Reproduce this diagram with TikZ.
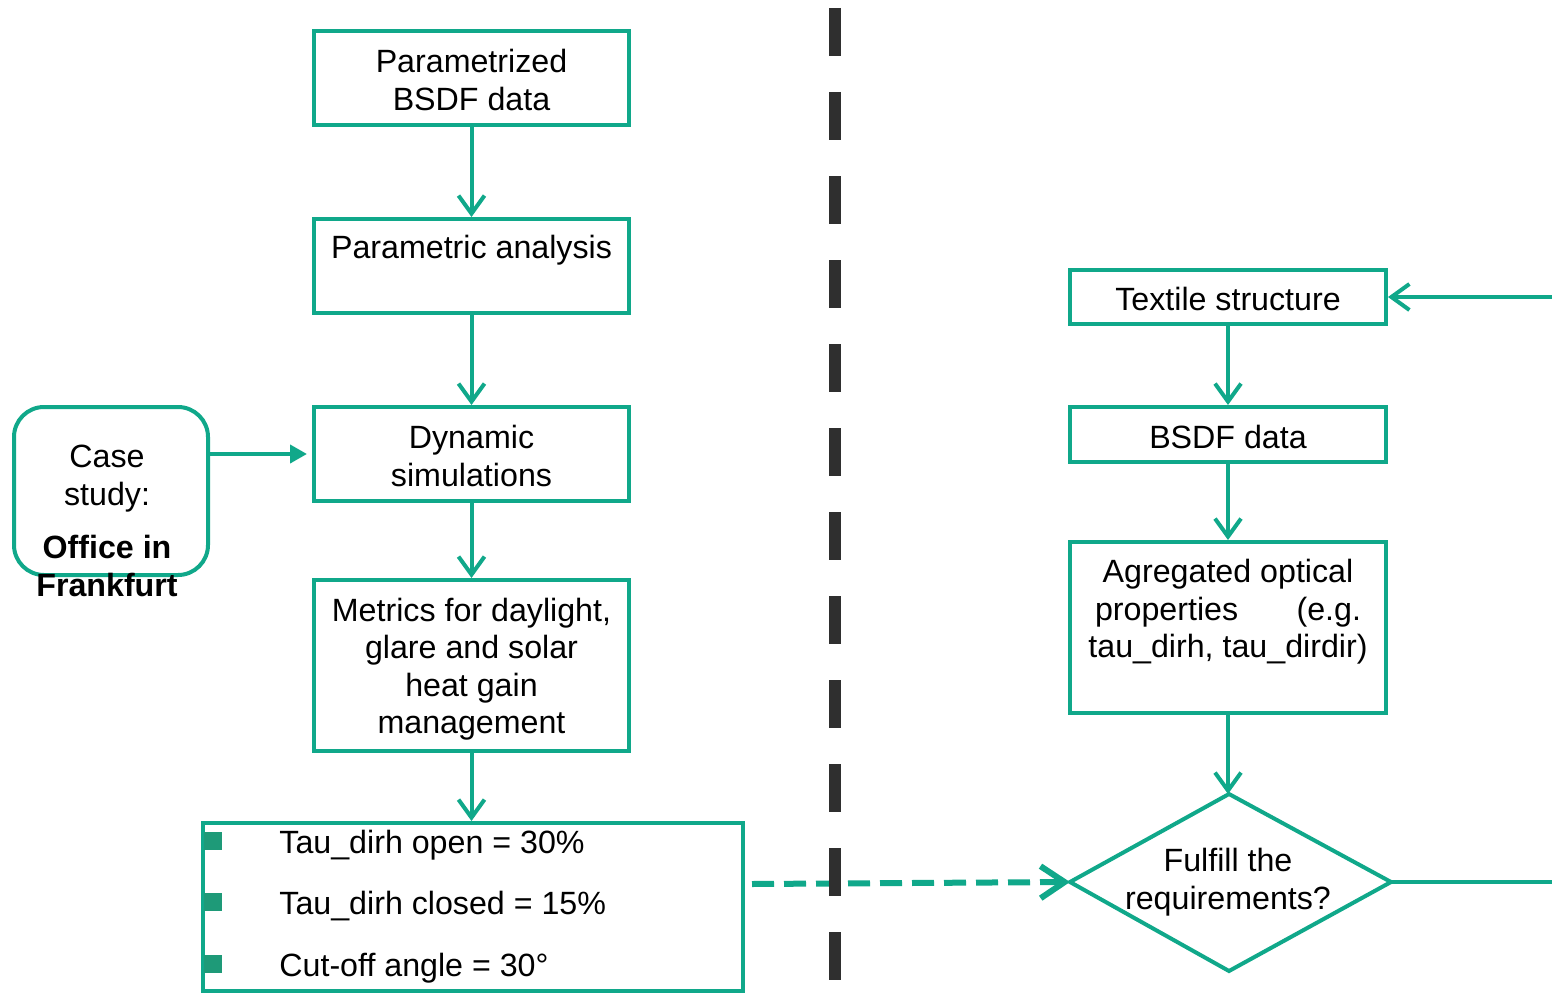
\documentclass[tikz,border=0pt]{standalone}
\usepackage{fontspec}
\setmainfont{Liberation Sans}
\usetikzlibrary{arrows.meta}
\definecolor{teal1}{RGB}{16,168,138}
\definecolor{bul}{RGB}{30,154,120}
\definecolor{divc}{RGB}{47,47,47}
\begin{document}
\begin{tikzpicture}[x=0.5pt,y=-0.5pt,
 box/.style={draw=teal1,line width=2pt,inner sep=0pt,minimum width=157.5pt,align=center,font=\fontsize{16.1}{18.7}\selectfont},
 txt/.style={align=center,font=\fontsize{16.1}{18.7}\selectfont,inner sep=0pt},
 btxt/.style={anchor=base west,font=\fontsize{16.1}{18.7}\selectfont,inner sep=0pt},
 conn/.style={draw=teal1,line width=2pt,-{Straight Barb[length=9pt,width=13pt]}},
 dconn/.style={draw=teal1,line width=3pt,dash pattern=on 11pt off 5pt,-{Straight Barb[length=12pt,width=16pt]}},
 bsq/.style={fill=bul,inner sep=0pt,minimum size=9pt},
]
\useasboundingbox (0,0) rectangle (1552,995);

% left column
\node[box,minimum height=47pt] (b1) at (471.5,78) {};
\node[txt] (b1t) at (471.5,80) {Parametrized\\BSDF data};
\node[box,minimum height=47pt] (b2) at (471.5,266) {};
\node[txt] (b2t) at (471.5,250) {Parametric analysis};
\node[box,minimum height=47pt] (b3) at (471.5,454) {};
\node[txt] (b3t) at (471.5,456) {Dynamic\\simulations};
\node[box,minimum height=85.5pt] (b4) at (471.5,665.5) {};
\node[txt] (b4t) at (471.5,669) {Metrics for daylight,\\glare and solar\\heat gain\\management};
\node[box,minimum width=270pt,minimum height=84pt] (b5) at (473,907) {};

\node[bsq] (q1) at (213,841) {};
\node[bsq] (q2) at (213,902) {};
\node[bsq] (q3) at (213,964) {};
\node[btxt] (t1) at (279,853) {Tau\_dirh open = 30\%};
\node[btxt] (t2) at (279,914) {Tau\_dirh closed = 15\%};
\node[btxt] (t3) at (279,976) {Cut-off angle = 30°};

% case study
\node[draw=teal1,line width=2pt,rounded corners=15pt,minimum width=97pt,minimum height=84pt,inner sep=0pt] (cs) at (111,491) {};
\node[txt] (cst) at (107,521) {Case\\study:\\[8pt]\textbf{Office in}\\\textbf{Frankfurt}};

\draw[conn] (b1.south) -- (b2.north);
\draw[conn] (b2.south) -- (b3.north);
\draw[conn] (b3.south) -- (b4.north);
\draw[conn] (b4.south) -- (b4.south |- b5.north);
\draw[draw=teal1,line width=2pt,-{Triangle[length=8.5pt,width=9pt]},shorten >=2.5pt] ([yshift=18.5pt]cs.east) -- (b3.west);

% right column
\node[box,minimum width=158pt,minimum height=27pt] (ts) at (1228,297) {};
\node[txt] (tst) at (1228,299) {Textile structure};
\node[box,minimum width=158pt,minimum height=27.5pt] (bd) at (1228,434.5) {};
\node[txt] (bdt) at (1228,436.5) {BSDF data};
\node[box,minimum width=158pt,minimum height=85.5pt] (ag) at (1228,627.5) {};
\node[txt] (agt) at (1228,612) {Agregated optical\\\makebox[133pt][s]{properties\hfill(e.g.}\\tau\_dirh, tau\_dirdir)};

\coordinate (dl) at (1070,882);
\coordinate (dt) at (1229,794);
\coordinate (dr) at (1391,882);
\coordinate (db) at (1229,971);
\draw[teal1,line width=2pt,line join=miter] (dt) -- (dr) -- (db) -- (dl) -- cycle;
\node[txt] (dtx) at (1228,882) {Fulfill the\\requirements?};

\draw[conn] (ts.south) -- (bd.north);
\draw[conn] (bd.south) -- (ag.north);
\draw[conn] (ag.south) -- (ag.south |- dt);

\coordinate (re) at (1552,882);
\draw[teal1,line width=2pt] (dr) -- (re);
\coordinate (rt) at (1552,297);
\draw[conn] (rt) -- (ts.east);

% dashed arrow
\coordinate (ds) at (752,884);
\draw[dconn] (ds) -- (dl);

% divider
\draw[divc,line width=6pt,dash pattern=on 24pt off 18pt] (835,8) -- (835,980);
\end{tikzpicture}
\end{document}
